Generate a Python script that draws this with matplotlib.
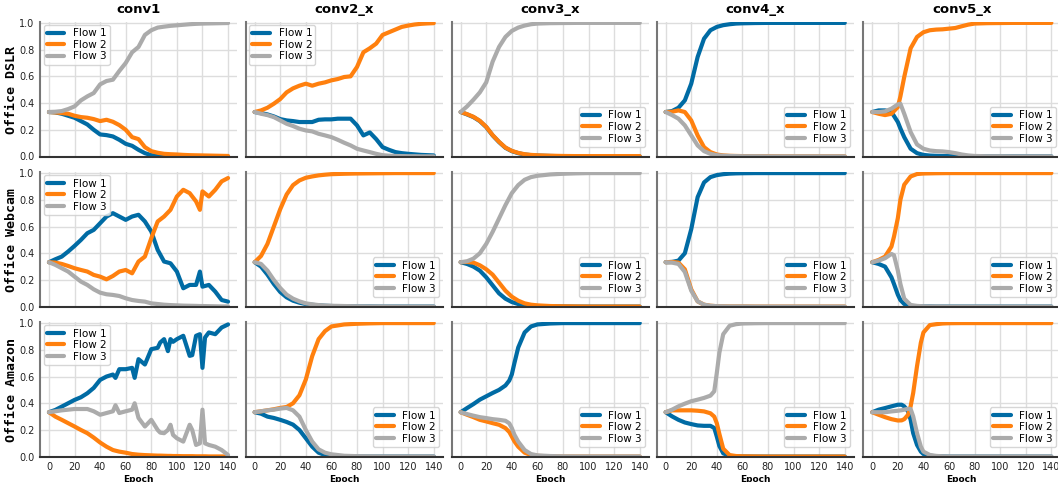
import matplotlib
matplotlib.use("Agg")
import matplotlib.pyplot as plt

flow_names = ["Flow 1", "Flow 2", "Flow 3"]
flow_colors = ["#006BA4", "#FF800E", "#ABABAB"]
row_names = ["Office DSLR", "Office Webcam", "Office Amazon"]
col_names = ["conv1", "conv2_x", "conv3_x", "conv4_x", "conv5_x"]

ep5 = [0, 5, 10, 15, 20, 25, 30, 35, 40, 45, 50, 55, 60, 65, 70, 75, 80, 85, 90, 95, 100, 105, 110, 115, 120, 125, 130, 135, 140]
ep_a = [0, 5, 10, 15, 20, 25, 30, 35, 40, 45, 50, 55, 60, 70, 80, 90, 100, 110, 120, 130, 140]
ep_dslr5 = [0, 5, 10, 15, 20, 22, 25, 30, 35, 40, 45, 50, 55, 60, 65, 70, 75, 80, 90, 100, 110, 120, 130, 140]
ep_web1 = [0, 5, 10, 15, 20, 25, 30, 35, 40, 45, 50, 55, 60, 65, 70, 75, 80, 85, 90, 95, 100, 105, 110, 115, 118, 120, 125, 130, 135, 140]
ep_web5 = [0, 5, 10, 15, 17, 20, 22, 25, 30, 35, 40, 45, 50, 60, 70, 80, 90, 100, 110, 120, 130, 140]
ep_amz1 = [0, 5, 10, 15, 20, 25, 30, 35, 40, 45, 50, 52, 55, 60, 65, 67, 70, 75, 80, 85, 87, 90, 93, 95, 97, 100, 105, 110, 112, 115, 118, 120, 122, 125, 130, 135, 140]
ep_amz34 = [0, 5, 10, 15, 20, 25, 30, 35, 38, 40, 42, 45, 50, 55, 60, 70, 80, 90, 100, 110, 120, 130, 140]
ep_amz5 = [0, 5, 10, 15, 20, 23, 25, 28, 30, 32, 35, 38, 40, 45, 50, 55, 60, 70, 80, 90, 100, 110, 120, 130, 140]

# Office DSLR
dslr_c1_f1 = [.333, .33, .32, .305, .29, .265, .24, .2, .165, .16, .15, .125, .095, .08, .05, .025, .01, .004, .002, .001, .001, 0, 0, 0, 0, 0, 0, 0, 0]
dslr_c1_f2 = [.333, .33, .325, .32, .305, .295, .29, .28, .265, .275, .26, .235, .2, .145, .13, .07, .04, .028, .02, .017, .015, .012, .01, .009, .008, .007, .006, .005, .004]
dslr_c1_f3 = [.333, .335, .34, .355, .375, .42, .45, .475, .54, .565, .575, .64, .70, .78, .82, .91, .945, .965, .972, .978, .982, .986, .99, .993, .995, .996, .997, .998, .999]
dslr_c2_f1 = [.333, .325, .315, .3, .28, .27, .265, .258, .258, .258, .275, .278, .278, .283, .283, .283, .233, .158, .18, .13, .07, .05, .033, .025, .02, .016, .012, .01, .008]
dslr_c2_f2 = [.333, .345, .365, .395, .43, .48, .51, .53, .545, .53, .545, .555, .57, .58, .595, .6, .67, .78, .81, .845, .91, .93, .95, .97, .98, .988, .993, .996, .998]
dslr_c2_f3 = [.333, .32, .31, .295, .27, .245, .228, .208, .195, .188, .17, .158, .145, .125, .103, .083, .058, .045, .033, .02, .01, .006, .004, .003, .002, .002, .001, .001, .001]
dslr_c3_f1 = [.333, .315, .295, .265, .22, .158, .108, .065, .04, .025, .015, .01, .007, .004, .002, .001, .001, .001, .001, .001, .001]
dslr_c3_f2 = [.333, .317, .297, .267, .222, .16, .11, .067, .042, .027, .017, .012, .009, .006, .004, .003, .003, .003, .003, .003, .003]
dslr_c3_f3 = [.333, .375, .425, .48, .555, .71, .82, .895, .94, .965, .98, .99, .995, .998, .999, 1, 1, 1, 1, 1, 1]
dslr_c4_f1 = [.333, .34, .365, .42, .545, .745, .882, .945, .97, .983, .99, .995, .997, .999, 1, 1, 1, 1, 1, 1, 1]
dslr_c4_f2 = [.333, .335, .345, .333, .27, .158, .07, .033, .015, .008, .005, .004, .003, .002, .002, .001, .001, .001, .001, .001, .001]
dslr_c4_f3 = [.333, .31, .283, .233, .158, .083, .04, .02, .01, .006, .004, .003, .002, .002, .001, .001, .001, .001, .001, .001, .001]
dslr_c5_f1 = [.333, .345, .345, .333, .258, .21, .145, .058, .025, .012, .007, .005, .004, .003, .003, .002, .002, .002, .001, .001, .001, .001, .001, .001]
dslr_c5_f2 = [.333, .32, .31, .32, .37, .45, .595, .81, .895, .93, .945, .95, .952, .957, .962, .975, .987, .995, .998, .999, 1, 1, 1, 1]
dslr_c5_f3 = [.333, .333, .338, .358, .39, .395, .32, .183, .09, .058, .045, .04, .038, .033, .025, .015, .008, .004, .002, .002, .001, .001, .001, .001]

# Office Webcam
web_c1_f1 = [.333, .355, .375, .413, .455, .5, .55, .575, .625, .675, .70, .675, .65, .675, .688, .638, .563, .425, .338, .325, .263, .138, .163, .163, .263, .15, .163, .113, .05, .038]
web_c1_f2 = [.333, .33, .32, .305, .288, .275, .263, .238, .225, .205, .23, .263, .275, .25, .338, .375, .513, .638, .675, .725, .825, .875, .85, .788, .725, .863, .825, .875, .938, .963]
web_c1_f3 = [.333, .313, .288, .263, .225, .188, .163, .13, .105, .093, .088, .08, .063, .05, .043, .038, .025, .02, .015, .012, .01, .008, .007, .006, .005, .005, .004, .003, .002, .002]
web_c2_f1 = [.333, .3, .24, .17, .11, .07, .045, .03, .02, .014, .01, .007, .005, .003, .002, .002, .001, .001, .001, .001, .001]
web_c2_f2 = [.333, .38, .47, .6, .73, .84, .91, .945, .965, .975, .983, .988, .992, .995, .997, .998, .999, 1, 1, 1, 1]
web_c2_f3 = [.333, .32, .27, .2, .14, .09, .06, .04, .025, .018, .012, .009, .007, .005, .003, .002, .002, .001, .001, .001, .001]
web_c3_f1 = [.333, .32, .3, .27, .22, .16, .1, .06, .035, .02, .012, .008, .005, .003, .002, .001, .001, .001, .001, .001, .001]
web_c3_f2 = [.333, .335, .33, .31, .28, .24, .18, .12, .075, .045, .025, .015, .01, .005, .003, .002, .001, .001, .001, .001, .001]
web_c3_f3 = [.333, .34, .36, .4, .47, .56, .66, .76, .85, .91, .95, .97, .98, .99, .995, .998, 1, 1, 1, 1, 1]
web_c4_f1 = [.333, .335, .345, .4, .58, .82, .93, .97, .985, .992, .996, .998, .999, 1, 1, 1, 1, 1, 1, 1, 1]
web_c4_f2 = [.333, .335, .33, .28, .13, .04, .015, .007, .004, .003, .002, .002, .002, .001, .001, .001, .001, .001, .001, .001, .001]
web_c4_f3 = [.333, .33, .32, .26, .12, .04, .015, .007, .004, .003, .002, .002, .002, .001, .001, .001, .001, .001, .001, .001, .001]
web_c5_f1 = [.333, .32, .3, .22, .17, .09, .05, .02, .006, .003, .002, .002, .001, .001, .001, .001, .001, .001, .001, .001, .001, .001]
web_c5_f2 = [.333, .35, .375, .45, .525, .663, .8, .913, .975, .993, .997, .998, .999, 1, 1, 1, 1, 1, 1, 1, 1, 1]
web_c5_f3 = [.333, .345, .363, .395, .385, .27, .17, .06, .013, .006, .003, .002, .002, .001, .001, .001, .001, .001, .001, .001, .001, .001]

# Office Amazon
amz_c1_f1 = [.333, .35, .375, .4, .425, .445, .475, .515, .575, .6, .615, .59, .655, .655, .665, .59, .73, .69, .805, .815, .855, .88, .79, .88, .86, .88, .905, .755, .76, .905, .917, .665, .892, .93, .917, .967, .99]
amz_c1_f2 = [.333, .3, .276, .251, .226, .2, .176, .143, .106, .075, .05, .045, .038, .03, .02, .018, .015, .012, .01, .008, .008, .007, .006, .006, .005, .005, .004, .004, .004, .003, .003, .003, .003, .002, .002, .002, .002]
amz_c1_f3 = [.333, .34, .347, .352, .357, .357, .357, .34, .314, .327, .34, .385, .327, .34, .352, .4, .29, .226, .276, .2, .18, .176, .2, .239, .163, .138, .113, .239, .2, .088, .1, .352, .1, .088, .075, .05, .013]
amz_c2_f1 = [.333, .322, .3, .29, .276, .26, .24, .2, .138, .075, .03, .013, .007, .003, .002, .001, .001, .001, .001, .001, .001]
amz_c2_f2 = [.333, .34, .347, .355, .365, .372, .4, .46, .578, .753, .88, .94, .975, .99, .995, .998, 1, 1, 1, 1, 1]
amz_c2_f3 = [.333, .34, .347, .352, .36, .365, .347, .3, .2, .113, .055, .03, .018, .007, .004, .003, .002, .002, .002, .002, .002]
amz_c3_f1 = [.333, .364, .394, .427, .452, .477, .5, .533, .57, .616, .7, .817, .93, .975, .99, .997, 1, 1, 1, 1, 1, 1, 1]
amz_c3_f2 = [.333, .314, .296, .276, .264, .251, .239, .214, .185, .151, .115, .075, .03, .013, .006, .003, .001, .001, .001, .001, .001, .001, .001]
amz_c3_f3 = [.333, .319, .307, .296, .289, .281, .276, .269, .25, .214, .165, .113, .05, .02, .01, .005, .003, .002, .002, .002, .002, .002, .002]
amz_c4_f1 = [.333, .302, .276, .256, .244, .234, .231, .231, .215, .15, .08, .025, .006, .003, .002, .001, .001, .001, .001, .001, .001, .001, .001]
amz_c4_f2 = [.333, .347, .347, .347, .347, .344, .339, .325, .3, .25, .17, .06, .012, .005, .003, .002, .001, .001, .001, .001, .001, .001, .001]
amz_c4_f3 = [.333, .352, .377, .397, .415, .427, .44, .457, .49, .628, .779, .917, .98, .992, .997, .999, 1, 1, 1, 1, 1, 1, 1]
amz_c5_f1 = [.333, .352, .364, .377, .389, .389, .377, .339, .276, .176, .088, .038, .02, .007, .003, .002, .001, .001, .001, .001, .001, .001, .001, .001, .001]
amz_c5_f2 = [.333, .314, .296, .281, .271, .272, .281, .314, .377, .477, .678, .854, .93, .985, .992, .997, .999, 1, 1, 1, 1, 1, 1, 1, 1]
amz_c5_f3 = [.333, .333, .333, .339, .344, .348, .352, .359, .357, .302, .176, .075, .038, .013, .006, .003, .002, .002, .002, .002, .002, .002, .002, .002, .002]

panels = [
    [(ep5, dslr_c1_f1, dslr_c1_f2, dslr_c1_f3), (ep5, dslr_c2_f1, dslr_c2_f2, dslr_c2_f3),
     (ep_a, dslr_c3_f1, dslr_c3_f2, dslr_c3_f3), (ep_a, dslr_c4_f1, dslr_c4_f2, dslr_c4_f3),
     (ep_dslr5, dslr_c5_f1, dslr_c5_f2, dslr_c5_f3)],
    [(ep_web1, web_c1_f1, web_c1_f2, web_c1_f3), (ep_a, web_c2_f1, web_c2_f2, web_c2_f3),
     (ep_a, web_c3_f1, web_c3_f2, web_c3_f3), (ep_a, web_c4_f1, web_c4_f2, web_c4_f3),
     (ep_web5, web_c5_f1, web_c5_f2, web_c5_f3)],
    [(ep_amz1, amz_c1_f1, amz_c1_f2, amz_c1_f3), (ep_a, amz_c2_f1, amz_c2_f2, amz_c2_f3),
     (ep_amz34, amz_c3_f1, amz_c3_f2, amz_c3_f3), (ep_amz34, amz_c4_f1, amz_c4_f2, amz_c4_f3),
     (ep_amz5, amz_c5_f1, amz_c5_f2, amz_c5_f3)],
]
upper_left = {(0, 0), (1, 0), (2, 0), (0, 1)}

W, H = 1058, 482
fig = plt.figure(figsize=(W / 100, H / 100), dpi=100)
col_left = [40, 245.7, 451.7, 656.7, 863.3]
row_zero = [156.5, 306.7, 456.7]   # pixel row of y=0
unit = 133.6                       # pixels per 1.0
ax_w = 197

for r in range(3):
    for c in range(5):
        ax = fig.add_axes([col_left[c] / W, 1 - row_zero[r] / H, ax_w / W, unit * 1.01 / H])
        ep, f1, f2, f3 = panels[r][c]
        for vals, name, col in zip((f1, f2, f3), flow_names, flow_colors):
            ax.plot(ep, vals, color=col, lw=3.0, label=name, solid_capstyle='round')
        ax.set_xlim(-7, 147); ax.set_ylim(0, 1.01)
        ax.set_xticks(range(0, 141, 20)); ax.set_yticks([0, .2, .4, .6, .8, 1.0])
        ax.grid(True, color='#dddddd', lw=1.0); ax.set_axisbelow(True)
        for s in ('top', 'right'): ax.spines[s].set_visible(False)
        ax.spines['left'].set_color('#777777'); ax.spines['left'].set_linewidth(1.5)
        ax.spines['bottom'].set_color('#333333'); ax.spines['bottom'].set_linewidth(1.5)
        ax.tick_params(length=0, labelsize=7, pad=4, colors='#222222')
        if c > 0: ax.tick_params(labelleft=False)
        else: ax.set_yticklabels(['0.0', '0.2', '0.4', '0.6', '0.8', '1.0'])
        if r < 2: ax.tick_params(labelbottom=False)
        else: ax.set_xlabel('Epoch', fontsize=6.5, fontweight='bold', labelpad=2)
        if r == 0: ax.set_title(col_names[c], fontsize=9.5, fontweight='bold', pad=6)
        if (r, c) in upper_left:
            ax.legend(loc='upper left', fontsize=7.5, handlelength=1.7, labelspacing=0.15, borderpad=0.3, borderaxespad=0.35)
        else:
            ax.legend(loc='lower right', bbox_to_anchor=(0.995, 0.05), fontsize=7.5, handlelength=1.7, labelspacing=0.15, borderpad=0.3, borderaxespad=0.3)
        if c == 0:
            fig.text(12 / W, 1 - (row_zero[r] - unit / 2) / H, row_names[r], rotation=90, va='center', ha='center',
                     family='DejaVu Sans Mono', fontweight='bold', fontsize=9.5)

fig.savefig('out.png', dpi=100)
